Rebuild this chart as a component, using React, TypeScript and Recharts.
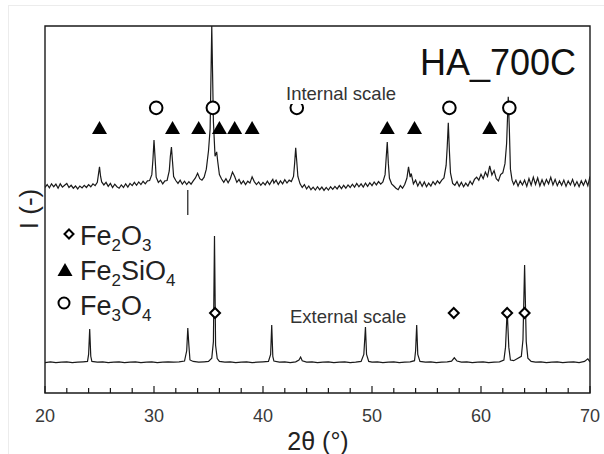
import React from "react";
import {
  ComposedChart,
  Line,
  Scatter,
  XAxis,
  YAxis,
  ReferenceArea,
  ReferenceLine,
} from "recharts";

// 2θ (°) / intensity pairs (upper trace)
const internalPattern: [number, number][] = [
  [20.0, 56.0], [20.2, 56.8], [20.4, 55.9], [20.6, 57.0], [20.8, 56.2], [21.0, 56.9],
  [21.2, 55.8], [21.4, 57.0], [21.6, 56.1], [21.8, 56.6], [22.0, 57.1], [22.2, 56.0],
  [22.4, 56.6], [22.6, 55.8], [22.8, 56.4], [23.0, 55.6], [23.2, 56.4], [23.4, 55.9],
  [23.6, 56.6], [23.8, 56.0], [24.0, 56.8], [24.2, 56.2], [24.4, 57.0], [24.6, 56.5],
  [24.8, 57.4], [24.9, 59.5], [25.0, 61.6], [25.1, 59.0], [25.2, 57.5], [25.4, 56.7],
  [25.6, 57.4], [25.8, 56.3], [26.0, 57.1], [26.2, 56.0], [26.4, 56.9], [26.6, 56.2],
  [26.8, 55.8], [27.0, 56.7], [27.2, 56.0], [27.4, 57.0], [27.6, 56.1], [27.8, 57.1],
  [28.0, 56.5], [28.2, 57.4], [28.4, 56.6], [28.6, 57.5], [28.8, 56.8], [29.0, 57.7],
  [29.2, 57.0], [29.4, 57.8], [29.6, 57.9], [29.8, 59.5], [29.9, 63.5], [30.0, 68.9],
  [30.1, 64.0], [30.2, 58.8], [30.4, 57.4], [30.6, 58.0], [30.8, 57.0], [31.0, 57.8],
  [31.2, 57.9], [31.4, 60.5], [31.5, 64.5], [31.6, 67.0], [31.7, 63.0], [31.8, 59.0],
  [32.0, 57.9], [32.2, 57.1], [32.4, 58.0], [32.6, 56.9], [32.8, 57.7], [33.0, 56.8],
  [33.2, 57.6], [33.4, 56.9], [33.6, 57.8], [33.8, 58.6], [34.0, 59.9], [34.2, 58.4],
  [34.4, 58.0], [34.6, 58.8], [34.8, 61.0], [35.0, 66.0], [35.15, 72.0], [35.3, 100],
  [35.45, 74.0], [35.6, 64.5], [35.75, 65.7], [35.85, 63.0], [36.0, 59.5], [36.2, 58.3],
  [36.4, 57.4], [36.6, 58.4], [36.8, 57.3], [37.0, 58.4], [37.2, 60.2], [37.4, 59.0],
  [37.6, 57.4], [37.8, 58.2], [38.0, 57.0], [38.2, 57.8], [38.4, 56.8], [38.6, 57.7],
  [38.8, 57.2], [39.0, 58.9], [39.2, 57.6], [39.4, 56.8], [39.6, 57.5], [39.8, 56.6],
  [40.0, 57.4], [40.2, 56.7], [40.4, 57.7], [40.6, 56.8], [40.8, 57.8], [40.9, 58.2],
  [41.0, 57.2], [41.2, 58.0], [41.4, 56.8], [41.6, 57.8], [41.8, 57.0], [42.0, 58.1],
  [42.2, 57.2], [42.4, 58.0], [42.6, 57.6], [42.8, 59.0], [42.9, 62.5], [43.0, 66.8],
  [43.1, 63.0], [43.2, 59.0], [43.4, 57.0], [43.6, 56.0], [43.8, 56.8], [44.0, 55.6],
  [44.2, 56.4], [44.4, 55.4], [44.6, 56.1], [44.8, 55.3], [45.0, 56.2], [45.2, 55.4],
  [45.4, 56.1], [45.6, 55.2], [45.8, 56.0], [46.0, 55.3], [46.2, 56.2], [46.4, 55.5],
  [46.6, 56.3], [46.8, 55.6], [47.0, 56.5], [47.2, 55.7], [47.4, 56.6], [47.6, 55.8],
  [47.8, 56.7], [48.0, 56.0], [48.2, 56.9], [48.4, 56.1], [48.6, 57.1], [48.8, 56.2],
  [49.0, 57.0], [49.2, 56.1], [49.4, 57.2], [49.6, 56.3], [49.8, 57.3], [50.0, 56.5],
  [50.2, 57.5], [50.4, 56.7], [50.6, 57.6], [50.8, 56.9], [51.0, 57.5], [51.2, 59.5],
  [51.3, 64.0], [51.4, 68.4], [51.5, 62.5], [51.6, 58.5], [51.8, 57.0], [52.0, 56.4],
  [52.2, 55.8], [52.4, 55.4], [52.6, 56.5], [52.8, 55.8], [53.0, 56.8], [53.2, 58.5],
  [53.35, 61.6], [53.5, 58.8], [53.6, 59.8], [53.8, 57.0], [54.0, 58.0], [54.2, 56.4],
  [54.4, 57.6], [54.6, 56.3], [54.8, 57.5], [55.0, 56.2], [55.2, 57.2], [55.4, 56.4],
  [55.6, 57.6], [55.8, 56.8], [56.0, 57.8], [56.2, 57.1], [56.4, 58.0], [56.6, 58.6],
  [56.8, 62.0], [56.9, 67.0], [57.0, 73.6], [57.1, 66.0], [57.2, 60.0], [57.4, 57.1],
  [57.6, 56.6], [57.8, 57.6], [58.0, 56.3], [58.2, 57.4], [58.4, 56.2], [58.6, 57.2],
  [58.8, 56.4], [59.0, 57.7], [59.2, 56.8], [59.4, 58.2], [59.6, 58.8], [59.8, 58.0],
  [60.0, 59.6], [60.2, 58.4], [60.4, 60.2], [60.6, 59.0], [60.8, 61.9], [61.0, 59.4],
  [61.2, 60.6], [61.4, 58.4], [61.6, 57.8], [61.8, 59.5], [62.0, 60.0], [62.2, 62.5],
  [62.35, 68.0], [62.5, 80.7], [62.6, 72.0], [62.7, 61.0], [62.85, 58.0], [63.0, 56.8],
  [63.2, 58.0], [63.4, 56.4], [63.6, 57.8], [63.8, 56.7], [64.0, 58.0], [64.2, 56.3],
  [64.4, 58.4], [64.6, 56.6], [64.8, 58.8], [65.0, 56.8], [65.2, 58.6], [65.4, 56.4],
  [65.6, 58.1], [65.8, 56.6], [66.0, 58.2], [66.2, 57.0], [66.4, 58.8], [66.6, 56.7],
  [66.8, 58.2], [67.0, 56.5], [67.2, 57.8], [67.4, 56.6], [67.6, 58.0], [67.8, 56.3],
  [68.0, 57.8], [68.2, 56.7], [68.4, 58.2], [68.6, 56.4], [68.8, 57.6], [69.0, 56.2],
  [69.2, 57.8], [69.4, 56.6], [69.6, 58.0], [69.8, 56.5], [70.0, 59.0],
];

// 2θ (°) / intensity pairs (lower trace)
const externalPattern: [number, number][] = [
  [20.0, 8.3], [20.5, 8.5], [21.0, 8.3], [21.5, 8.4], [22.0, 8.5], [22.5, 8.3],
  [23.0, 8.4], [23.5, 8.5], [23.9, 8.6], [24.0, 10.5], [24.1, 17.4], [24.2, 10.0],
  [24.3, 8.6], [24.8, 8.4], [25.3, 8.5], [25.8, 8.3], [26.3, 8.4], [26.8, 8.5],
  [27.3, 8.3], [27.8, 8.4], [28.3, 8.5], [28.8, 8.3], [29.3, 8.4], [29.8, 8.5],
  [30.3, 8.3], [30.8, 8.4], [31.3, 8.5], [31.8, 8.4], [32.3, 8.5], [32.8, 8.7],
  [33.0, 11.5], [33.1, 17.7], [33.2, 13.0], [33.3, 9.0], [33.6, 8.6], [34.1, 8.4],
  [34.6, 8.5], [35.0, 8.6], [35.3, 9.5], [35.45, 14.0], [35.55, 42.8], [35.65, 13.0],
  [35.8, 9.4], [36.0, 8.6], [36.5, 8.4], [37.0, 8.5], [37.5, 8.3], [38.0, 8.4],
  [38.5, 8.5], [39.0, 8.3], [39.5, 8.4], [40.0, 8.5], [40.5, 8.6], [40.7, 10.5],
  [40.8, 18.5], [40.9, 10.0], [41.0, 8.7], [41.5, 8.4], [42.0, 8.5], [42.5, 8.3],
  [43.0, 8.5], [43.3, 9.0], [43.45, 9.8], [43.6, 8.8], [44.0, 8.4], [44.5, 8.5],
  [45.0, 8.3], [45.5, 8.4], [46.0, 8.5], [46.5, 8.3], [47.0, 8.4], [47.5, 8.5],
  [48.0, 8.3], [48.5, 8.4], [49.0, 8.6], [49.25, 10.5], [49.4, 18.0], [49.5, 10.5],
  [49.7, 8.6], [50.0, 8.4], [50.5, 8.5], [51.0, 8.3], [51.5, 8.4], [52.0, 8.5],
  [52.5, 8.3], [53.0, 8.4], [53.5, 8.5], [53.9, 8.8], [54.0, 11.5], [54.1, 18.5],
  [54.2, 10.5], [54.4, 8.6], [54.9, 8.4], [55.4, 8.5], [55.9, 8.3], [56.4, 8.4],
  [56.9, 8.5], [57.3, 8.7], [57.55, 9.6], [57.8, 8.7], [58.2, 8.4], [58.7, 8.5],
  [59.2, 8.3], [59.7, 8.4], [60.2, 8.5], [60.7, 8.3], [61.2, 8.4], [61.7, 8.5],
  [62.1, 9.0], [62.25, 12.5], [62.4, 22.6], [62.55, 12.5], [62.7, 9.0], [63.0, 8.8],
  [63.7, 10.0], [63.85, 14.5], [64.0, 34.9], [64.15, 14.0], [64.3, 9.5], [64.6, 8.6],
  [65.0, 8.4], [65.5, 8.5], [66.0, 8.3], [66.5, 8.4], [67.0, 8.5], [67.5, 8.3],
  [68.0, 8.4], [68.5, 8.5], [69.0, 8.3], [69.5, 8.6], [69.8, 9.3], [70.0, 8.5],
];

// Phase marker positions (2θ)
const fe2sio4Peaks = [25.0, 31.7, 34.1, 36.0, 37.4, 39.0, 51.4, 53.9, 60.8];
const fe3o4Peaks = [30.2, 35.4, 43.1, 57.1, 62.6];
const fe2o3Peaks = [35.6, 57.5, 62.4, 64.0];
const triangleLevel = 72.2;
const circleLevel = 77.7;
const diamondLevel = 21.8;

// Stray offset mark
const offsetMark = { x: 33.1, y1: 48.5, y2: 55.3 };

const xTicks = [20, 22, 24, 26, 28, 30, 32, 34, 36, 38, 40, 42, 44, 46, 48, 50, 52, 54, 56, 58, 60, 62, 64, 66, 68, 70];
const xMajor = [20, 30, 40, 50, 60, 70];

const FONT = '"Liberation Sans", Arial, sans-serif';
const INK = "#1a1a1a";

const internalData = internalPattern.map(([x, y]) => ({ x, y }));
const externalData = externalPattern.map(([x, y]) => ({ x, y }));
const triData = fe2sio4Peaks.map((x) => ({ x, y: triangleLevel }));
const circData = fe3o4Peaks.map((x) => ({ x, y: circleLevel }));
const diaData = fe2o3Peaks.map((x) => ({ x, y: diamondLevel }));

const Triangle = (p: any) => {
  const { cx, cy } = p;
  return <path d={`M${cx},${cy - 7} L${cx + 7.5},${cy + 6} L${cx - 7.5},${cy + 6} Z`} fill="#000" />;
};
const Circle = (p: any) => {
  const { cx, cy } = p;
  return <circle cx={cx} cy={cy} r={6.3} fill="#fff" stroke="#000" strokeWidth={2} />;
};
const Diamond = (p: any) => {
  const { cx, cy } = p;
  return (
    <path
      d={`M${cx},${cy - 5} L${cx + 5},${cy} L${cx},${cy + 5} L${cx - 5},${cy} Z`}
      fill="#fff"
      stroke="#000"
      strokeWidth={2}
    />
  );
};

const XTick = (props: any) => {
  const { x, y, payload } = props;
  const v = payload.value;
  const major = xMajor.includes(v);
  return (
    <g>
      <line x1={x} x2={x} y1={y} y2={y - (major ? 7 : 5)} stroke={INK} strokeWidth={1.2} />
      {major && (
        <text x={x} y={y + 29} textAnchor="middle" fontFamily={FONT} fontSize={18} fill="#3a3a3a">
          {v}
        </text>
      )}
    </g>
  );
};

export default function App() {
  return (
    <div style={{ position: "absolute", left: 0, top: 0, width: 604, height: 454, background: "#fff" }}>
      <div
        style={{
          position: "absolute",
          left: 8,
          top: 5,
          width: 596,
          height: 449,
          borderTop: "1px solid #ececec",
          borderLeft: "1px solid #ececec",
          boxSizing: "border-box",
        }}
      />
      <div style={{ position: "absolute", left: 0, top: 0 }}>
        <ComposedChart width={604} height={454} margin={{ top: 26, right: 14, bottom: 21, left: 45 }}>
          <XAxis
            dataKey="x"
            type="number"
            domain={[20, 70]}
            ticks={xTicks}
            interval={0}
            tickSize={0}
            tickMargin={0}
            tickLine={false}
            axisLine={false}
            height={40}
            tick={(p: any) => <XTick {...p} />}
            allowDataOverflow
          />
          <YAxis dataKey="y" type="number" domain={[0, 100]} hide width={0} allowDataOverflow />
          <Line
            data={internalData}
            dataKey="y"
            type="linear"
            stroke={INK}
            strokeWidth={1.2}
            dot={false}
            isAnimationActive={false}
          />
          <Line
            data={externalData}
            dataKey="y"
            type="linear"
            stroke={INK}
            strokeWidth={1.2}
            dot={false}
            isAnimationActive={false}
          />
          <ReferenceLine
            segment={[
              { x: offsetMark.x, y: offsetMark.y1 },
              { x: offsetMark.x, y: offsetMark.y2 },
            ]}
            stroke={INK}
            strokeWidth={1.2}
          />
          <Scatter data={triData} dataKey="y" shape={Triangle} isAnimationActive={false} />
          <Scatter data={circData} dataKey="y" shape={Circle} isAnimationActive={false} />
          <Scatter data={diaData} dataKey="y" shape={Diamond} isAnimationActive={false} />
          <ReferenceArea x1={20} x2={70} y1={0} y2={100} fill="none" stroke={INK} strokeWidth={1.4} ifOverflow="visible" />
        </ComposedChart>
      </div>
      <svg
        width={604}
        height={454}
        style={{ position: "absolute", left: 0, top: 0, pointerEvents: "none" }}
        fontFamily={FONT}
      >
        <text x={576} y={75} textAnchor="end" fontSize={36} fill="#111">
          HA_700C
        </text>
        <rect x={283} y={84} width={118} height={20} fill="#fff" />
        <text x={286} y={100} fontSize={18.5} fill="#333">
          Internal scale
        </text>
        <text x={290} y={323} fontSize={18.5} fill="#333">
          External scale
        </text>
        <text x={38} y={209} textAnchor="middle" fontSize={26} fill="#222" transform="rotate(-90 38 209)">
          I (-)
        </text>
        <text x={318} y={450} textAnchor="middle" fontSize={25} fill="#222">
          2θ (°)
        </text>
        {/* legend */}
        <path d="M69,229.5 L73.5,234 L69,238.5 L64.5,234 Z" fill="#fff" stroke="#000" strokeWidth={2} />
        <text x={80} y={245} fontSize={27} fill="#222">
          Fe<tspan fontSize={17} dy={6}>2</tspan>
          <tspan dy={-6}>O</tspan>
          <tspan fontSize={17} dy={6}>3</tspan>
        </text>
        <path d="M65,263 L72.5,276 L57.5,276 Z" fill="#000" />
        <text x={80} y={280} fontSize={27} fill="#222">
          Fe<tspan fontSize={17} dy={6}>2</tspan>
          <tspan dy={-6}>SiO</tspan>
          <tspan fontSize={17} dy={6}>4</tspan>
        </text>
        <circle cx={64} cy={303} r={5.5} fill="#fff" stroke="#000" strokeWidth={2} />
        <text x={80} y={315} fontSize={27} fill="#222">
          Fe<tspan fontSize={17} dy={6}>3</tspan>
          <tspan dy={-6}>O</tspan>
          <tspan fontSize={17} dy={6}>4</tspan>
        </text>
      </svg>
    </div>
  );
}
